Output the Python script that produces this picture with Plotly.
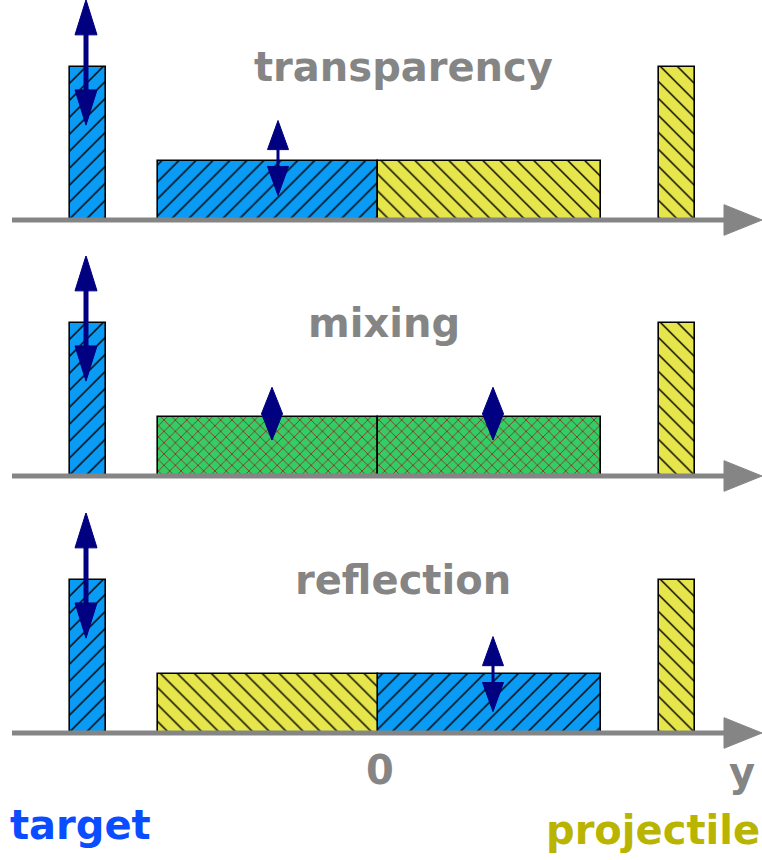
import plotly.graph_objects as go
from plotly.subplots import make_subplots

# ---------------- data ----------------
panel_titles = ["transparency", "mixing", "reflection"]
# slabs along the y (rapidity) axis: target spectator, left half, right half, projectile spectator
slab_centers = [-2.895, -1.095, 1.12, 2.995]
slab_widths = [0.36, 2.20, 2.23, 0.36]
slab_heights = [1.0, 0.386, 0.386, 1.0]
panel_materials = [
    ["target", "target", "projectile", "projectile"],
    ["target", "mixed", "mixed", "projectile"],
    ["target", "projectile", "target", "projectile"],
]
# double arrows (x, y_low, y_high)
big_arrows = [(-2.91, 0.62, 1.44)] * 3
small_arrows = [
    [(-0.99, 0.16, 0.65)],
    [(-1.05, 0.235, 0.58), (1.16, 0.235, 0.58)],
    [(1.16, 0.14, 0.63)],
]
bottom_labels = ["0", "y"]
side_labels = ["target", "projectile"]

# ---------------- styles ----------------
materials = {
    "target": dict(bg="#0a9cf5", fg="#000000", shape="/", size=12, solidity=0.12),
    "projectile": dict(bg="#e6e64c", fg="#000000", shape="\\", size=12, solidity=0.12),
    "mixed": dict(bg="#33cc66", fg="#a01818", shape="x", size=8, solidity=0.18),
}
GRAY = "#858585"
NAVY = "#000080"
FONT = "DejaVu Sans"

W, H = 762, 860
X_RANGE = [-3.77, 3.85]          # 100 px per unit
Y_RANGE = [-30 / 153, 220 / 153]  # 153 px per unit
row_tops = [0, 256, 513]
row_h = 250

fig = make_subplots(rows=3, cols=1)

for r in range(3):
    row = r + 1
    mats = panel_materials[r]
    # bars grouped by material
    for m in ["target", "projectile", "mixed"]:
        idx = [i for i, mm in enumerate(mats) if mm == m]
        if not idx:
            continue
        st = materials[m]
        fig.add_trace(go.Bar(
            x=[slab_centers[i] for i in idx],
            y=[slab_heights[i] for i in idx],
            width=[slab_widths[i] for i in idx],
            marker=dict(
                color=st["bg"],
                line=dict(color="#000000", width=1.6),
                pattern=dict(shape=st["shape"], bgcolor=st["bg"], fgcolor=st["fg"],
                             fgopacity=1, size=st["size"], solidity=st["solidity"]),
            ),
            showlegend=False, hoverinfo="skip",
        ), row=row, col=1)

    # gray axis line with arrow head
    fig.add_trace(go.Scatter(
        x=[-3.65, 3.5], y=[0, 0], mode="lines",
        line=dict(color=GRAY, width=5), cliponaxis=False,
        showlegend=False, hoverinfo="skip"), row=row, col=1)
    hx0, hx1, hh = 3.47, 3.85, 0.10
    fig.add_trace(go.Scatter(
        x=[hx0, hx1, hx0, hx0], y=[hh, 0, -hh, hh], mode="lines",
        fill="toself", fillcolor=GRAY, line=dict(color=GRAY, width=1),
        cliponaxis=False, showlegend=False, hoverinfo="skip"), row=row, col=1)

    # double arrows
    def add_arrow(x, y0, y1, lw, hl, hw):
        if y1 - y0 > 2 * hl:
            fig.add_trace(go.Scatter(
                x=[x, x], y=[y0 + hl * 0.5, y1 - hl * 0.5], mode="lines",
                line=dict(color=NAVY, width=lw), cliponaxis=False,
                showlegend=False, hoverinfo="skip"), row=row, col=1)
        for tip, base in [(y1, y1 - hl), (y0, y0 + hl)]:
            fig.add_trace(go.Scatter(
                x=[x - hw / 2, x, x + hw / 2, x - hw / 2],
                y=[base, tip, base, base], mode="lines",
                fill="toself", fillcolor=NAVY, line=dict(color=NAVY, width=1),
                cliponaxis=False, showlegend=False, hoverinfo="skip"), row=row, col=1)

    for (x, y0, y1) in [big_arrows[r]]:
        add_arrow(x, y0, y1, 5, 0.23, 0.22)
    for (x, y0, y1) in small_arrows[r]:
        hl = min(0.19, (y1 - y0) / 2)
        add_arrow(x, y0, y1, 3, hl, 0.21)

    # panel title
    fig.add_annotation(
        text=panel_titles[r], x=[0.26, 0.07, 0.26][r], y=1.0,
        xref=f"x{'' if row == 1 else row}", yref=f"y{'' if row == 1 else row}",
        showarrow=False, xanchor="center", yanchor="middle",
        font=dict(family=FONT, size=40, color=GRAY, weight="bold"))

# axes layout
for r in range(3):
    row = r + 1
    top = row_tops[r]
    dom = [1 - (top + row_h) / H, 1 - top / H]
    fig.update_yaxes(domain=dom, range=Y_RANGE, visible=False, fixedrange=True, row=row, col=1)
    fig.update_xaxes(range=X_RANGE, visible=False, fixedrange=True, row=row, col=1)

# bottom labels
fig.add_annotation(text=bottom_labels[0], x=380 / W, y=1 - 770 / H, xref="paper", yref="paper",
                   showarrow=False, xanchor="center", yanchor="middle",
                   font=dict(family=FONT, size=40, color=GRAY, weight="bold"))
fig.add_annotation(text=bottom_labels[1], x=742 / W, y=1 - 772 / H, xref="paper", yref="paper",
                   showarrow=False, xanchor="center", yanchor="middle",
                   font=dict(family=FONT, size=40, color=GRAY, weight="bold"))
fig.add_annotation(text=side_labels[0], x=8 / W, y=1 - 825 / H, xref="paper", yref="paper",
                   showarrow=False, xanchor="left", yanchor="middle",
                   font=dict(family=FONT, size=40, color="#0a4cff", weight="bold"))
fig.add_annotation(text=side_labels[1], x=762 / W, y=1 - 830 / H, xref="paper", yref="paper",
                   showarrow=False, xanchor="right", yanchor="middle",
                   font=dict(family=FONT, size=40, color="#b8b400", weight="bold"))

fig.update_layout(
    width=W, height=H, autosize=False,
    margin=dict(l=0, r=0, t=0, b=0, pad=0),
    paper_bgcolor="white", plot_bgcolor="white",
    bargap=0, barmode="overlay", showlegend=False,
)

fig.write_html(
    "out.html",
    config={"displayModeBar": False},
    post_script="document.body.style.margin='0';document.body.style.overflow='hidden';",
)
